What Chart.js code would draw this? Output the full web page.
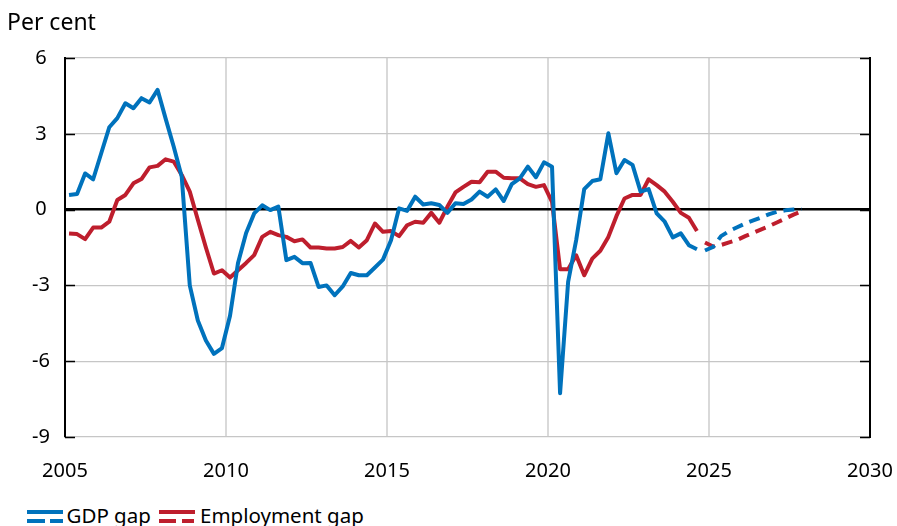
<!DOCTYPE html>
<html>
<head>
<meta charset="utf-8">
<script src="https://cdn.jsdelivr.net/npm/chart.js@4.4.1/dist/chart.umd.min.js"></script>
<style>
  html, body { margin: 0; padding: 0; background: #fff; overflow: hidden; }
  #wrap { position: relative; width: 897px; height: 526px; font-family: 'Noto Sans', sans-serif; color: #000; }
  #box { position: absolute; left: 0; top: 0; width: 897px; height: 487px; }
  .ltext { position: absolute; top: 501px; font-size: 20.5px; line-height: 28px; white-space: nowrap; }
  .lkey { position: absolute; top: 510px; width: 36px; height: 13px; }
  .lkey div { position: absolute; height: 4px; }
  .lkey .solid { left: 0; top: 0; width: 36px; }
  .lkey .d1 { left: 0; top: 8.7px; width: 17.6px; }
  .lkey .d2 { left: 23.3px; top: 8.7px; width: 12.7px; }
  .blue div { background: #0072bc; }
  .red div { background: #be1e2d; }
</style>
</head>
<body>
<div id="wrap">
  <div id="box"><canvas id="chart"></canvas></div>
  <div class="lkey blue" style="left:27px"><div class="solid"></div><div class="d1"></div><div class="d2"></div></div>
  <div class="ltext" style="left:66.5px">GDP gap</div>
  <div class="lkey red" style="left:158.5px"><div class="solid"></div><div class="d1"></div><div class="d2"></div></div>
  <div class="ltext" style="left:200px">Employment gap</div>
</div>
<script>
// Outturns, quarterly (mid-quarter on the time axis)
const histQuarters = [
  '2005Q1','2005Q2','2005Q3','2005Q4', '2006Q1','2006Q2','2006Q3','2006Q4',
  '2007Q1','2007Q2','2007Q3','2007Q4', '2008Q1','2008Q2','2008Q3','2008Q4',
  '2009Q1','2009Q2','2009Q3','2009Q4', '2010Q1','2010Q2','2010Q3','2010Q4',
  '2011Q1','2011Q2','2011Q3','2011Q4', '2012Q1','2012Q2','2012Q3','2012Q4',
  '2013Q1','2013Q2','2013Q3','2013Q4', '2014Q1','2014Q2','2014Q3','2014Q4',
  '2015Q1','2015Q2','2015Q3','2015Q4', '2016Q1','2016Q2','2016Q3','2016Q4',
  '2017Q1','2017Q2','2017Q3','2017Q4', '2018Q1','2018Q2','2018Q3','2018Q4',
  '2019Q1','2019Q2','2019Q3','2019Q4', '2020Q1','2020Q2','2020Q3','2020Q4',
  '2021Q1','2021Q2','2021Q3','2021Q4', '2022Q1','2022Q2','2022Q3','2022Q4',
  '2023Q1','2023Q2','2023Q3','2023Q4', '2024Q1','2024Q2','2024Q3'
];
const gdpGap = [
  0.58, 0.62, 1.43, 1.2,   2.23, 3.26, 3.62, 4.21,
  4.01, 4.41, 4.24, 4.74,  3.6, 2.5, 1.3, -3.0,
  -4.39, -5.18, -5.71, -5.48,  -4.2, -2.1, -0.93, -0.15,
  0.17, -0.02, 0.12, -2.0,  -1.87, -2.12, -2.11, -3.06,
  -3.0, -3.39, -3.04, -2.51,  -2.6, -2.6, -2.29, -1.98,
  -1.21, 0.05, -0.05, 0.51,  0.2, 0.25, 0.18, -0.13,
  0.25, 0.22, 0.4, 0.71,  0.51, 0.8, 0.34, 1.01,
  1.24, 1.7, 1.28, 1.87,  1.7, -7.27, -2.86, -1.21,
  0.81, 1.13, 1.2, 3.02,  1.44, 1.96, 1.77, 0.71,
  0.81, -0.15, -0.48, -1.1,  -0.94, -1.41, -1.57
];
const employmentGap = [
  -0.95, -0.97, -1.17, -0.71,  -0.71, -0.48, 0.38, 0.58,
  1.04, 1.21, 1.67, 1.73,  1.99, 1.9, 1.37, 0.71,
  -0.4, -1.5, -2.53, -2.4,  -2.69, -2.4, -2.11, -1.8,
  -1.08, -0.88, -1.01, -1.08,  -1.25, -1.18, -1.5, -1.5,
  -1.54, -1.54, -1.48, -1.24,  -1.5, -1.21, -0.55, -0.88,
  -0.85, -1.05, -0.62, -0.48,  -0.52, -0.13, -0.52, 0.11,
  0.68, 0.9, 1.1, 1.08,  1.5, 1.5, 1.26, 1.24,
  1.24, 1.01, 0.9, 0.97,  0.31, -2.36, -2.36, -1.81,
  -2.6, -1.94, -1.63, -1.08,  -0.26, 0.44, 0.58, 0.58,
  1.2, 0.97, 0.71, 0.31,  -0.13, -0.32, -0.85
];

// Projections (dashed)
const forecastQuarters = [
  '2024Q4', '2025Q1','2025Q2','2025Q3','2025Q4',
  '2026Q1','2026Q2','2026Q3','2026Q4', '2027Q1','2027Q2','2027Q3','2027Q4'
];
const gdpGapForecast = [-1.62, -1.48, -1.05, -0.85, -0.7, -0.55, -0.43, -0.31, -0.18, -0.08, -0.03, 0.0, 0.02];
const employmentGapForecast = [-1.3, -1.46, -1.4, -1.3, -1.2, -1.05, -0.92, -0.78, -0.65, -0.5, -0.35, -0.2, -0.07];

const xTicks = [2005, 2010, 2015, 2020, 2025, 2030];
const yTicks = [-9, -6, -3, 0, 3, 6];

const BLUE = '#0072bc';
const RED = '#be1e2d';
const DASH = [11, 7];

const toYear = (q) => Number(q.slice(0, 4)) + (Number(q.slice(5)) - 1) / 4 + 0.125;
const pts = (qs, vals) => qs.map((q, i) => ({ x: toYear(q), y: vals[i] }));

function line(label, data, color, dashed) {
  return {
    label, data, borderColor: color, borderWidth: 4, borderDash: dashed ? DASH : [],
    pointRadius: 0, tension: 0, fill: false, borderJoinStyle: 'round',
  };
}

// tick marks point into the plot on both sides
const innerTicks = {
  id: 'innerTicks',
  beforeDatasetsDraw(chart) {
    const { ctx, chartArea: a, scales: { y } } = chart;
    ctx.save();
    ctx.strokeStyle = '#000';
    ctx.lineWidth = 1.5;
    yTicks.forEach((v) => {
      const py = Math.round(y.getPixelForValue(v)) + 0.5;
      ctx.beginPath();
      ctx.moveTo(a.left, py); ctx.lineTo(a.left + 10, py);
      ctx.moveTo(a.right - 10, py); ctx.lineTo(a.right, py);
      ctx.stroke();
    });
    ctx.restore();
  },
};

Chart.defaults.font.family = "'Noto Sans', sans-serif";
Chart.defaults.color = '#000';

new Chart(document.getElementById('chart'), {
  type: 'line',
  data: {
    datasets: [
      line('GDP gap', pts(histQuarters, gdpGap), BLUE, false),
      line('GDP gap (projection)', pts(forecastQuarters, gdpGapForecast), BLUE, true),
      line('Employment gap', pts(histQuarters, employmentGap), RED, false),
      line('Employment gap (projection)', pts(forecastQuarters, employmentGapForecast), RED, true),
    ],
  },
  options: {
    responsive: true,
    maintainAspectRatio: false,
    animation: false,
    layout: { padding: { left: 7, right: 0, top: 0, bottom: 0 } },
    plugins: {
      legend: { display: false },
      tooltip: { enabled: false },
      title: {
        display: true, text: 'Per cent', align: 'start', color: '#000',
        font: { size: 23, weight: 'normal', lineHeight: 1.2 },
        padding: { top: 9.6, bottom: 20.8 },
      },
    },
    scales: {
      x: {
        type: 'linear', min: 2005, max: 2030,
        afterBuildTicks: (s) => { s.ticks = xTicks.map((v) => ({ value: v })); },
        grid: {
          color: (c) => (c.tick && (c.tick.value === 2005 || c.tick.value === 2030)) ? 'rgba(0,0,0,0)' : '#d9d9d9',
          lineWidth: 2, drawTicks: false,
        },
        border: { display: false },
        ticks: { padding: 22, font: { size: 20 }, callback: (v) => String(v), maxRotation: 0 },
        afterFit: (s) => { s.height = 50; s.paddingLeft = 0; s.paddingRight = 0; },
      },
      y: {
        position: 'left', min: -9, max: 6,
        afterBuildTicks: (s) => { s.ticks = yTicks.map((v) => ({ value: v })); },
        grid: {
          color: (c) => (c.tick && c.tick.value === 0) ? '#000' : '#c6c6c6',
          lineWidth: (c) => (c.tick && c.tick.value === 0) ? 2.5 : 1.2,
          drawTicks: false,
        },
        border: { color: '#000', width: 2 },
        ticks: { crossAlign: 'center', padding: 15, font: { size: 20 } },
        afterFit: (s) => { s.width = 58; },
      },
      y2: {
        position: 'right', min: -9, max: 6,
        grid: { display: false, drawTicks: false },
        border: { color: '#000', width: 2 },
        ticks: { display: false },
        afterFit: (s) => { s.width = 27; },
      },
    },
  },
  plugins: [innerTicks],
});
</script>
</body>
</html>
